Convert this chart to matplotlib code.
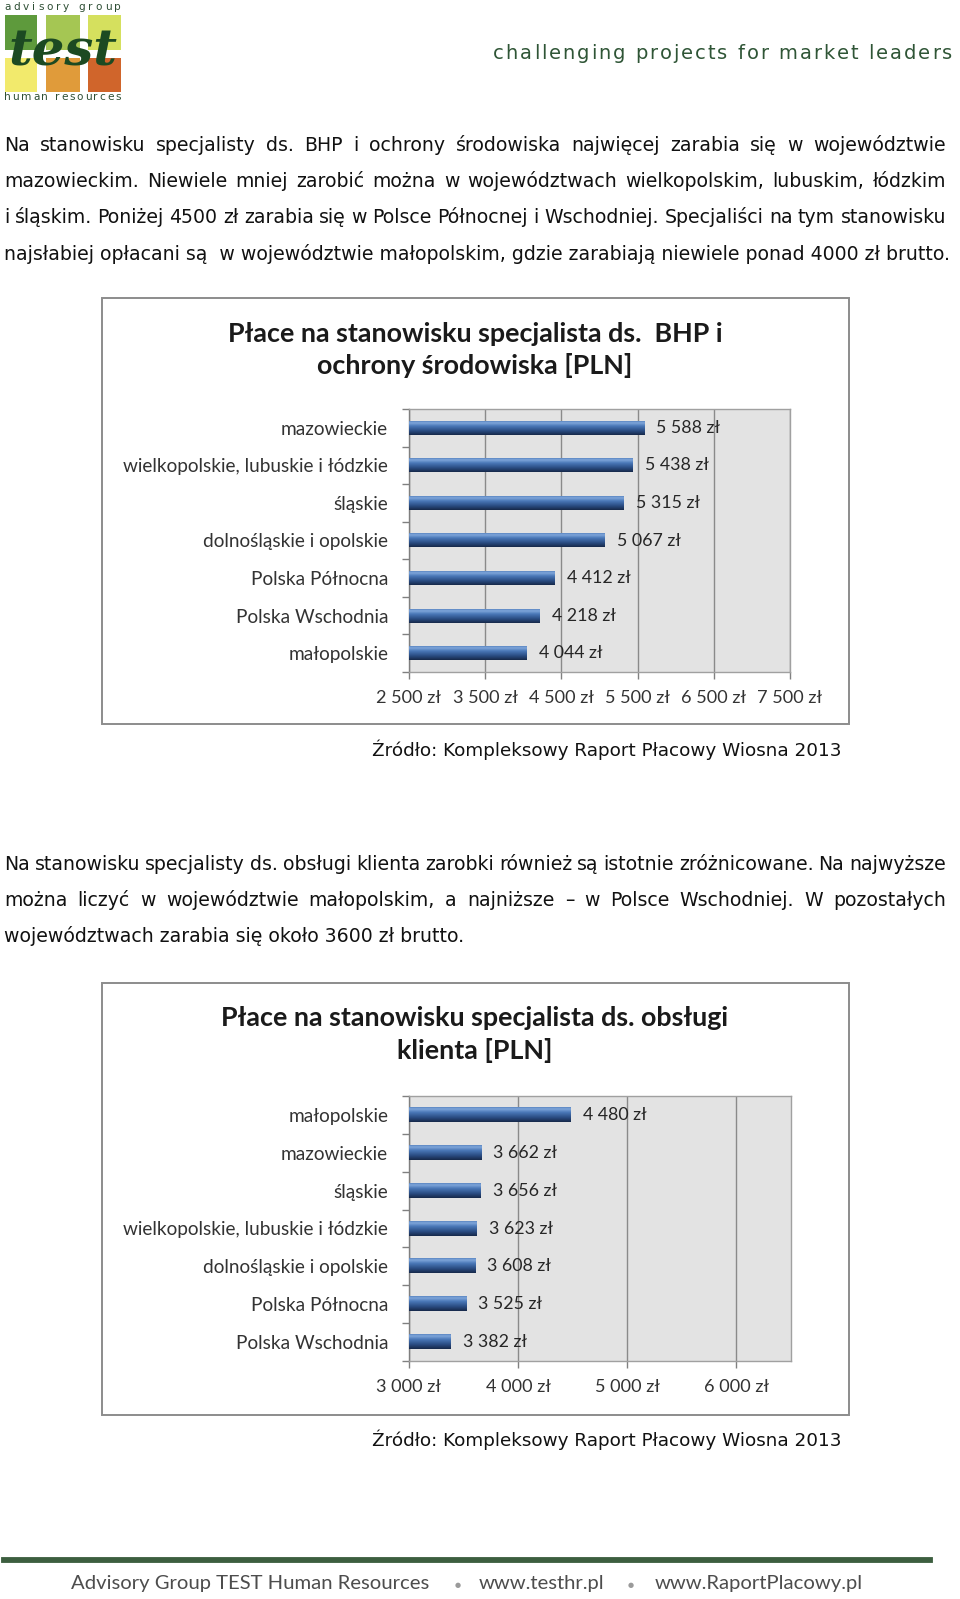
import numpy as np
import matplotlib.pyplot as plt
from matplotlib.patches import Rectangle
from matplotlib.lines import Line2D
from matplotlib.colors import LinearSegmentedColormap

W, H = 960, 1599

# --- tekst strony ---
par1 = [
    "Na stanowisku specjalisty ds. BHP i ochrony środowiska najwięcej zarabia się w województwie",
    "mazowieckim. Niewiele mniej zarobić można w województwach wielkopolskim, lubuskim, łódzkim",
    "i śląskim. Poniżej 4500 zł zarabia się w Polsce Północnej i Wschodniej. Specjaliści na tym stanowisku",
    "najsłabiej opłacani są  w województwie małopolskim, gdzie zarabiają niewiele ponad 4000 zł brutto.",
]
par2 = [
    "Na stanowisku specjalisty ds. obsługi klienta zarobki również są istotnie zróżnicowane. Na najwyższe",
    "można liczyć w województwie małopolskim, a najniższe – w Polsce Wschodniej. W pozostałych",
    "województwach zarabia się około 3600 zł brutto.",
]
source = "Źródło: Kompleksowy Raport Płacowy Wiosna 2013"
tagline = "challenging projects for market leaders"
footer = ["Advisory Group TEST Human Resources", "www.testhr.pl", "www.RaportPlacowy.pl"]

# --- wykres 1 ---
bhp_title = ["Płace na stanowisku specjalista ds.  BHP i", "ochrony środowiska [PLN]"]
bhp_regions = ["mazowieckie", "wielkopolskie, lubuskie i łódzkie", "śląskie",
               "dolnośląskie i opolskie", "Polska Północna", "Polska Wschodnia", "małopolskie"]
bhp_values = [5588, 5438, 5315, 5067, 4412, 4218, 4044]
bhp_ticks = [2500, 3500, 4500, 5500, 6500, 7500]

# --- wykres 2 ---
obs_title = ["Płace na stanowisku specjalista ds. obsługi", "klienta [PLN]"]
obs_regions = ["małopolskie", "mazowieckie", "śląskie", "wielkopolskie, lubuskie i łódzkie",
               "dolnośląskie i opolskie", "Polska Północna", "Polska Wschodnia"]
obs_values = [4480, 3662, 3656, 3623, 3608, 3525, 3382]
obs_ticks = [3000, 4000, 5000, 6000]
obs_xmax = 6500

BODY = "DejaVu Sans"
CHART = ["Lato", "DejaVu Sans"]

fig = plt.figure(figsize=(9.6, 15.99), dpi=100)
fig.patch.set_facecolor("white")
renderer = fig.canvas.get_renderer()


def px(x):
    return x / W


def py(y):
    return 1 - y / H


def text_width(s, **kw):
    t = fig.text(0, 0, s, **kw)
    w = t.get_window_extent(renderer).width
    t.remove()
    return w


def put_line(line, yb, x0, x1, justify=True, **kw):
    if not justify:
        fig.text(px(x0), py(yb), line, ha="left", va="baseline", **kw)
        return
    words = line.split()
    widths = [text_width(w, **kw) for w in words]
    gap = (x1 - x0 - sum(widths)) / (len(words) - 1)
    x = x0
    for w, wd in zip(words, widths):
        fig.text(px(x), py(yb), w, ha="left", va="baseline", **kw)
        x += wd + gap


def put_spaced(s, yb, x0, x1, **kw):
    # tekst z rozstrzeleniem liter
    sp = text_width("x x", **kw) - text_width("xx", **kw)
    widths = [sp if c == " " else text_width(c, **kw) for c in s]
    track = (x1 - x0 - sum(widths)) / (len(s) - 1)
    x = x0
    for c, wd in zip(s, widths):
        if c != " ":
            fig.text(px(x), py(yb), c, ha="left", va="baseline", **kw)
        x += wd + track


body_kw = dict(family=BODY, color="#111111")
fs = 12 * 940 / text_width(par1[3], fontsize=12, **body_kw)
body_kw["fontsize"] = fs

for i, (line, yb) in enumerate(zip(par1, [151, 187.2, 223.4, 259.6])):
    put_line(line, yb, 4, 946, justify=i < len(par1) - 1, **body_kw)
for i, (line, yb) in enumerate(zip(par2, [870, 906, 942])):
    put_line(line, yb, 4, 946, justify=i < len(par2) - 1, **body_kw)
src_kw = dict(body_kw, fontsize=fs * 0.975)
fig.text(px(372), py(756), source, ha="left", va="baseline", **src_kw)
fig.text(px(372), py(1445.5), source, ha="left", va="baseline", **src_kw)

# --- logo ---
lax = fig.add_axes([0, py(104), 130 / W, 104 / H])
lax.set_xlim(0, 130)
lax.set_ylim(104, 0)
lax.axis("off")
logo_cols = [(5, 37), (46, 80), (88, 121)]
logo_rows = [(15, 50), (58, 92)]
logo_colors = [["#5e9a3c", "#a5c653", "#d5e05e"], ["#f2ea6c", "#e09b3a", "#d0652b"]]
for r, (y0, y1) in enumerate(logo_rows):
    for c, (x0, x1) in enumerate(logo_cols):
        lax.add_patch(Rectangle((x0, y0), x1 - x0, y1 - y0, color=logo_colors[r][c], lw=0))
lax.text(63, 52, "test", ha="center", va="center", fontsize=37, color="#1c4a22",
         family="DejaVu Serif", fontweight="bold", style="italic")
logo_kw = dict(fontsize=7.6, family=BODY, color="#2f4f35")
put_spaced("advisory group", 10, 4, 121, **logo_kw)
put_spaced("human resources", 100, 4, 121, **logo_kw)

put_spaced(tagline, 59, 493, 952, fontsize=14, family=BODY, color="#2f5536")

# --- wykresy ---
cmap = LinearSegmentedColormap.from_list(
    "bar", [(0, "#17294a"), (0.3, "#2a4c82"), (0.65, "#4a78b8"), (0.88, "#7fa6da"), (1, "#5b86c2")])
grad = np.linspace(0, 1, 64).reshape(-1, 1)


def fmt(v):
    return f"{v:,}".replace(",", " ") + " zł"


def chart(box, plot, title, title_y, regions, values, ticks, xmax):
    fig.patches.append(Rectangle((px(box[0]), py(box[3])), (box[2] - box[0]) / W,
                                 (box[3] - box[1]) / H, transform=fig.transFigure,
                                 fill=False, edgecolor="#8c8c8c", lw=1.4))
    for line, yb in zip(title, title_y):
        fig.text(px(475), py(yb), line, ha="center", va="baseline", fontsize=19.4,
                 fontweight="bold", family=CHART, color="#1a1a1a")
    ax = fig.add_axes([px(plot[0]), py(plot[3]), (plot[2] - plot[0]) / W,
                       (plot[3] - plot[1]) / H])
    ax.set_facecolor("#e3e3e3")
    n = len(values)
    ypos = np.arange(n)[::-1]
    bars = ax.barh(ypos, np.array(values) - ticks[0], left=ticks[0], height=0.37,
                   color="#3b659f", zorder=3)
    for b, v, yy in zip(bars, values, ypos):
        x0, y0 = b.get_x(), b.get_y()
        ax.imshow(grad, extent=(x0, x0 + b.get_width(), y0, y0 + b.get_height()),
                  origin="lower", aspect="auto", cmap=cmap, zorder=4, interpolation="bilinear")
        ax.annotate(fmt(v), (v, yy), xytext=(12, 0), textcoords="offset pixels",
                    ha="left", va="center", fontsize=12.8, family=CHART, color="#262626", zorder=5)
    ax.set_xlim(ticks[0], xmax)
    ax.set_ylim(-0.5, n - 0.5)
    ax.set_xticks(ticks, [fmt(t) for t in ticks])
    ax.set_yticks(ypos, regions)
    ax.set_yticks(np.arange(n + 1) - 0.5, minor=True)
    ax.tick_params(axis="y", which="major", length=0, pad=15, labelsize=13.7, labelcolor="#333333")
    ax.tick_params(axis="y", which="minor", length=5, width=1, color="#808080", direction="out")
    ax.tick_params(axis="x", length=5, width=1, color="#808080", direction="out", pad=8,
                   labelsize=13.1, labelcolor="#333333")
    for lab in ax.get_xticklabels() + ax.get_yticklabels():
        lab.set_family(CHART)
    ax.grid(axis="x", color="#8a8a8a", lw=1)
    ax.set_axisbelow(True)
    for s in ax.spines.values():
        s.set_color("#a0a0a0")
        s.set_linewidth(1)
    ax.spines["left"].set_color("#7f7f7f")
    return ax


chart((102, 298, 849, 724), (409, 409, 790, 672), bhp_title, [342, 374.5],
      bhp_regions, bhp_values, bhp_ticks, bhp_ticks[-1])
chart((102, 983, 849, 1415), (409, 1096, 791, 1361), obs_title, [1026.5, 1059],
      obs_regions, obs_values, obs_ticks, obs_xmax)

# --- stopka ---
fig.lines.append(Line2D([px(4), px(930)], [py(1560), py(1560)], transform=fig.transFigure,
                        color="#3c5e3f", lw=4.2))
foot_kw = dict(family=CHART, fontsize=14.6, color="#4d4d4d", va="center")
fig.text(px(71), py(1584), footer[0], ha="left", **foot_kw)
fig.text(px(479), py(1584), footer[1], ha="left", **foot_kw)
fig.text(px(655), py(1584), footer[2], ha="left", **foot_kw)
for xb in [458, 631]:
    fig.text(px(xb), py(1585), "●", ha="center", va="center", fontsize=5, color="#9a9a9a",
             family=BODY)

fig.savefig("out.png", dpi=100)
